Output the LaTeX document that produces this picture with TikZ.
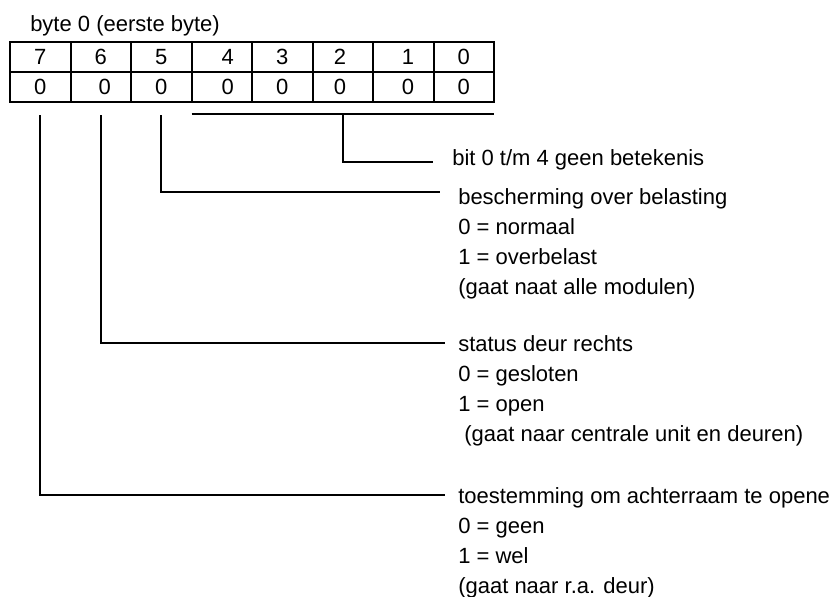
\documentclass[tikz,border=0pt]{standalone}
\usepackage{fontspec}
\setmainfont{Liberation Sans}
\usetikzlibrary{calc}
\begin{document}
\begin{tikzpicture}[x=0.75pt,y=-0.75pt,
  cell/.style={draw,line width=1.5pt,minimum width=45.375pt,minimum height=22.5pt,inner sep=0pt,outer sep=0pt},
  lbl/.style={font=\fontsize{16.5}{19}\selectfont,inner sep=0pt},
  txt/.style={font=\fontsize{16.5}{19}\selectfont,inner sep=0pt,anchor=west,text height=12pt,text depth=0pt},
  wire/.style={line width=1.5pt}]
\useasboundingbox (0,0) rectangle (830,596);

% title
\node[txt] (title) at (30,23) {byte 0 (eerste byte)};

% bit numbers (top row) and values (bottom row)
\node[cell,label={[lbl]center:7}] (h7) at (40.25,57) {};
\node[cell,label={[lbl]center:6}] (h6) at (100.75,57) {};
\node[cell,label={[lbl]center:5}] (h5) at (161.25,57) {};
\node[cell,label={[lbl,xshift=4.5pt]center:4}] (h4) at (221.75,57) {};
\node[cell,label={[lbl]center:3}] (h3) at (282.25,57) {};
\node[cell,label={[lbl,xshift=-2pt]center:2}] (h2) at (342.75,57) {};
\node[cell,label={[lbl,xshift=3.5pt]center:1}] (h1) at (403.25,57) {};
\node[cell,label={[lbl]center:0}] (h0) at (463.75,57) {};

\node[cell,label={[lbl]center:0}] (v7) at (40.25,87) {};
\node[cell,label={[lbl,xshift=3pt]center:0}] (v6) at (100.75,87) {};
\node[cell,label={[lbl]center:0}] (v5) at (161.25,87) {};
\node[cell,label={[lbl,xshift=4.5pt]center:0}] (v4) at (221.75,87) {};
\node[cell,label={[lbl]center:0}] (v3) at (282.25,87) {};
\node[cell,label={[lbl,xshift=-2pt]center:0}] (v2) at (342.75,87) {};
\node[cell,label={[lbl,xshift=3.5pt]center:0}] (v1) at (403.25,87) {};
\node[cell,label={[lbl]center:0}] (v0) at (463.75,87) {};

% descriptions
\node[txt] (d0) at (452,157) {bit 0 t/m 4 geen betekenis};

\node[txt] (d5) at (458,196) {bescherming over belasting};
\node[txt] at (458,226) {0 = normaal};
\node[txt] at (458,256) {1 = overbelast};
\node[txt] at (458,286) {(gaat naat alle modulen)};

\node[txt] (d6) at (458,343) {status deur rechts};
\node[txt] at (458,373) {0 = gesloten};
\node[txt] at (458,403) {1 = open};
\node[txt] at (458,433) {\ (gaat naar centrale unit en deuren)};

\node[txt] (d7) at (458,495) {toestemming om achterraam te openen};
\node[txt] at (458,525) {0 = geen};
\node[txt] at (458,555) {1 = wel};
\node[txt] at (458,585) {(gaat naar r.a. deur)};

% bracket over bits 4..0
\coordinate (bl) at ([yshift=-9pt]v4.south west);
\coordinate (br) at ([yshift=-9pt]v0.south east);
\coordinate (bm) at ($(bl)!0.5!(br)$);
\draw[wire] (bl) -- (br);
\draw[wire] (bm) |- ([xshift=-14pt,yshift=-3.75pt]d0.west);

% leader lines for bits 5, 6, 7
\draw[wire] ([yshift=-9.75pt]v5.south) |- ([xshift=-13.5pt,yshift=3pt]d5.west);
\draw[wire] ([yshift=-9.75pt]v6.south) |- ([xshift=-9.75pt]d6.west);
\draw[wire] ([yshift=-9.75pt]v7.south) |- ([xshift=-9.75pt]d7.west);
\end{tikzpicture}
\end{document}
